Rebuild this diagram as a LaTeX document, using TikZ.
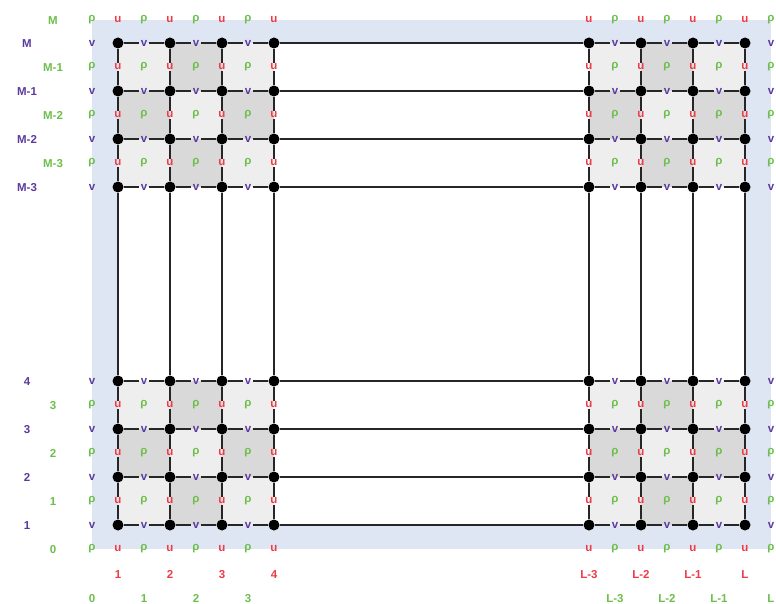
\documentclass[tikz,border=0pt]{standalone}
\usepackage{fontspec}
\setmainfont{Liberation Sans}
\usetikzlibrary{calc}
\definecolor{rhocol}{HTML}{6DBE4B}
\definecolor{ucol}{HTML}{EE3B46}
\definecolor{vcol}{HTML}{5B3A9E}
\definecolor{framecol}{HTML}{DEE6F3}
\definecolor{cellA}{HTML}{EEEEEE}
\definecolor{cellB}{HTML}{D9D9D9}
\definecolor{linecol}{HTML}{262626}
\tikzset{
  dot/.style={circle,fill=black,inner sep=0pt,minimum size=11pt},
  edge/.style={draw=linecol,line width=1.5pt},
  lab/.style={font=\fontsize{11.5}{13}\selectfont\bfseries,inner sep=1.2pt},
  rholab/.style={lab,text=rhocol},
  ulab/.style={lab,text=ucol},
  vlab/.style={lab,text=vcol},
  index/.style={text height=8.2pt,text depth=0pt}
}

\begin{document}
\begin{tikzpicture}[x=1pt,y=-1pt]
\useasboundingbox (0,0) rectangle (776,604);
% grid points
\foreach \x [count=\i] in {118,170,222,274,589,641,693,745}
  \foreach \y [count=\j] in {43,91,139,187,381,429,477,525}
    \coordinate (p\i-\j) at (\x,\y);
% boundary strip
\fill[framecol] (92,20) rectangle (771,549);
\fill[white] (p1-1) rectangle (p8-8);
% cells
\foreach \i in {1,2,3,5,6,7}
  \foreach \j in {1,2,3,5,6,7}{
    \pgfmathtruncatemacro{\ii}{\i+1}
    \pgfmathtruncatemacro{\jj}{\j+1}
    \pgfmathtruncatemacro{\tone}{mod(\i+\j,2)}
    \ifnum\tone=0 \def\cellcol{cellA}\else\def\cellcol{cellB}\fi
    \fill[\cellcol] (p\i-\j) rectangle (p\ii-\jj);
    \node[rholab] (r\i-\j) at ($(p\i-\j)!0.5!(p\ii-\jj)$) {ρ};
  }
% grid nodes
\foreach \i in {1,...,8}
  \foreach \j in {1,...,8}
    \node[dot] (n\i-\j) at (p\i-\j) {};
% edges with v and u
\foreach \i in {1,2,3,5,6,7}
  \foreach \j in {1,...,8}{
    \pgfmathtruncatemacro{\ii}{\i+1}
    \node[vlab] (v\i-\j) at ($(n\i-\j)!0.5!(n\ii-\j)$) {v};
    \draw[edge] (n\i-\j) -- (v\i-\j) -- (n\ii-\j);
  }
\foreach \i in {1,...,8}
  \foreach \j in {1,2,3,5,6,7}{
    \pgfmathtruncatemacro{\jj}{\j+1}
    \node[ulab] (u\i-\j) at ($(n\i-\j)!0.5!(n\i-\jj)$) {u};
    \draw[edge] (n\i-\j) -- (u\i-\j) -- (n\i-\jj);
  }
% long links
\foreach \j in {1,...,8}
  \draw[edge] (n4-\j) -- (n5-\j);
\foreach \i in {1,...,8}
  \draw[edge] (n\i-4) -- (n\i-5);
% boundary labels
\foreach \x [count=\k] in {118,170,222,274,589,641,693,745}{
  \node[ulab] (ut\k) at (\x,20) {u};
  \node[ulab] (ub\k) at (\x,549) {u};
}
\foreach \x [count=\k] in {92,144,196,248,615,667,719,771}{
  \node[rholab] (rt\k) at (\x,20) {ρ};
  \node[rholab] (rb\k) at (\x,549) {ρ};
}
\foreach \y [count=\k] in {43,91,139,187,381,429,477,525}{
  \node[vlab] (vl\k) at (92,\y) {v};
  \node[vlab] (vr\k) at (771,\y) {v};
}
\foreach \y [count=\k] in {67,115,163,405,453,501}{
  \node[rholab] (rl\k) at (92,\y) {ρ};
  \node[rholab] (rr\k) at (771,\y) {ρ};
}
% indices
\foreach \t/\y [count=\k] in {M/43,M-1/91,M-2/139,M-3/187,4/381,3/429,2/477,1/525}
  \node[vlab,index] (iv\k) at (27,\y) {\t};
\foreach \t/\y [count=\k] in {M/20,M-1/67,M-2/115,M-3/163,3/405,2/453,1/501,0/549}
  \node[rholab,index] (ir\k) at (53,\y) {\t};
\foreach \t/\x [count=\k] in {1/118,2/170,3/222,4/274,L-3/589,L-2/641,L-1/693,L/745}
  \node[ulab,index] (iu\k) at (\x,574) {\t};
\foreach \t/\x [count=\k] in {0/92,1/144,2/196,3/248,L-3/615,L-2/667,L-1/719,L/771}
  \node[rholab,index] (irb\k) at (\x,598) {\t};
\end{tikzpicture}
\end{document}
